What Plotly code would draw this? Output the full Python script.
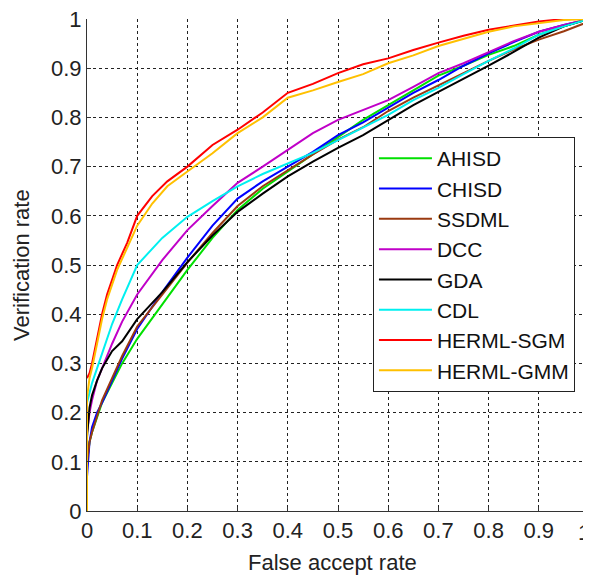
import plotly.graph_objects as go

# ---- data ----
x_common = [0, 0.005, 0.01, 0.02, 0.03, 0.05, 0.07, 0.1, 0.15, 0.2, 0.25, 0.3, 0.35,
            0.4, 0.45, 0.5, 0.55, 0.6, 0.65, 0.7, 0.75, 0.8, 0.85, 0.9, 0.95, 1.0]

ahisd = [0.10, 0.14, 0.16, 0.19, 0.22, 0.26, 0.30, 0.35, 0.42, 0.49, 0.555, 0.612, 0.655,
         0.69, 0.725, 0.76, 0.795, 0.825, 0.855, 0.885, 0.905, 0.927, 0.945, 0.968, 0.985, 1.0]
chisd = [0.07, 0.14, 0.17, 0.20, 0.22, 0.265, 0.31, 0.37, 0.445, 0.515, 0.58, 0.635, 0.67,
         0.70, 0.73, 0.764, 0.79, 0.82, 0.85, 0.876, 0.905, 0.93, 0.953, 0.974, 0.988, 1.0]
ssdml = [0.10, 0.14, 0.16, 0.195, 0.225, 0.27, 0.315, 0.375, 0.44, 0.505, 0.565, 0.62, 0.66,
         0.693, 0.725, 0.755, 0.78, 0.813, 0.84, 0.865, 0.89, 0.915, 0.938, 0.958, 0.975, 0.995]
dcc = [0.16, 0.20, 0.225, 0.265, 0.29, 0.34, 0.385, 0.44, 0.51, 0.571, 0.62, 0.667, 0.70,
       0.734, 0.768, 0.795, 0.815, 0.835, 0.862, 0.89, 0.91, 0.933, 0.955, 0.974, 0.988, 1.0]
gda = [0.15, 0.21, 0.235, 0.265, 0.29, 0.325, 0.345, 0.39, 0.445, 0.506, 0.56, 0.608, 0.645,
       0.68, 0.71, 0.738, 0.764, 0.795, 0.825, 0.852, 0.878, 0.905, 0.933, 0.962, 0.985, 1.0]
cdl = [0.22, 0.24, 0.26, 0.29, 0.32, 0.38, 0.43, 0.50, 0.555, 0.598, 0.63, 0.66, 0.685,
       0.707, 0.728, 0.754, 0.78, 0.805, 0.835, 0.86, 0.888, 0.915, 0.94, 0.968, 0.985, 1.0]

x_sgm = [0, 0.005, 0.01, 0.02, 0.03, 0.04, 0.05, 0.06, 0.08, 0.1, 0.13, 0.16, 0.2, 0.25,
         0.3, 0.35, 0.4, 0.45, 0.5, 0.55, 0.6, 0.65, 0.7, 0.75, 0.8, 0.85, 0.9, 0.95, 1.0]
herml_sgm = [0.27, 0.28, 0.30, 0.35, 0.40, 0.44, 0.47, 0.50, 0.545, 0.60, 0.64, 0.67, 0.70, 0.744,
             0.775, 0.81, 0.85, 0.868, 0.89, 0.908, 0.92, 0.937, 0.952, 0.966, 0.978, 0.987,
             0.995, 1.0, 1.0]
x_gmm = [0, 0, 0.005, 0.01, 0.02, 0.03, 0.04, 0.05, 0.06, 0.08, 0.1, 0.13, 0.16, 0.2, 0.25,
         0.3, 0.35, 0.4, 0.45, 0.5, 0.55, 0.6, 0.65, 0.7, 0.75, 0.8, 0.85, 0.9, 0.95, 1.0]
herml_gmm = [0.0, 0.23, 0.27, 0.29, 0.34, 0.39, 0.43, 0.46, 0.49, 0.535, 0.58, 0.625, 0.66, 0.69,
             0.727, 0.768, 0.80, 0.84, 0.855, 0.872, 0.888, 0.91, 0.926, 0.945, 0.96, 0.974,
             0.985, 0.992, 0.998, 1.0]

ticks = [0, 0.1, 0.2, 0.3, 0.4, 0.5, 0.6, 0.7, 0.8, 0.9, 1]
tick_text = ["0", "0.1", "0.2", "0.3", "0.4", "0.5", "0.6", "0.7", "0.8", "0.9", "1"]

x_title = "False accept rate"
y_title = "Verification rate"

series = [
    ("AHISD", x_common, ahisd, "#00e000"),
    ("CHISD", x_common, chisd, "#0000ff"),
    ("SSDML", x_common, ssdml, "#9a3a10"),
    ("DCC", x_common, dcc, "#c000c8"),
    ("GDA", x_common, gda, "#000000"),
    ("CDL", x_common, cdl, "#00f0f0"),
    ("HERML-SGM", x_sgm, herml_sgm, "#ff0000"),
    ("HERML-GMM", x_gmm, herml_gmm, "#ffc000"),
]

FONT = "Arial, Liberation Sans, sans-serif"
TXT = "#222222"

fig = go.Figure()
for name, xs, ys, col in series:
    fig.add_trace(go.Scatter(x=xs, y=ys, mode="lines", name=name,
                             line=dict(color=col, width=2), legendgroup=name))

axis_common = dict(
    range=[0, 1], tickvals=ticks,
    showgrid=True, gridcolor="#222222", gridwidth=1, griddash="3px,3px",
    showline=True, linecolor="#333333", linewidth=1,
    ticks="inside", ticklen=4, tickcolor="#333333",
    zeroline=False, tickfont=dict(family=FONT, size=22, color=TXT),
    fixedrange=True, automargin=False, ticklabeloverflow="allow",
)

# last x tick label sits at the page edge: draw it as a right-anchored annotation so it stays visible
fig.update_xaxes(**axis_common, ticktext=tick_text[:-1] + [""])
fig.update_yaxes(**axis_common, ticktext=tick_text)
fig.add_annotation(text=tick_text[-1], xref="x", yref="paper", x=ticks[-1], y=0,
                   yshift=-21, xanchor="right", xshift=3, yanchor="middle", showarrow=False,
                   font=dict(family=FONT, size=22, color=TXT))

fig.add_annotation(text=x_title, xref="paper", yref="paper", x=0.49, y=0,
                   yshift=-51, xanchor="center", yanchor="middle", showarrow=False,
                   font=dict(family=FONT, size=22, color=TXT))
fig.add_annotation(text=y_title, xref="paper", yref="paper", x=0, y=0.5,
                   xshift=-66, xanchor="center", yanchor="middle", showarrow=False,
                   textangle=-90, font=dict(family=FONT, size=22, color=TXT))

# right border of the axes box, dotted like the grid
fig.add_shape(type="line", xref="paper", yref="paper", x0=1, x1=1, y0=0, y1=1,
              line=dict(color="#222222", width=1, dash="3px,3px"), layer="below")

# page body has an 8px margin: compensate so the plot area lands where the reference has it
fig.update_layout(
    width=583, height=567,
    margin=dict(l=79, r=2, t=11, b=64),
    paper_bgcolor="white", plot_bgcolor="white",
    showlegend=True,
    legend=dict(
        x=0.972, y=0.760, xanchor="right", yanchor="top",
        bgcolor="white", bordercolor="#222222", borderwidth=1,
        font=dict(family=FONT, size=21, color="#111111"),
        tracegroupgap=0, itemwidth=53,
    ),
)

fig.write_html("out.html")
